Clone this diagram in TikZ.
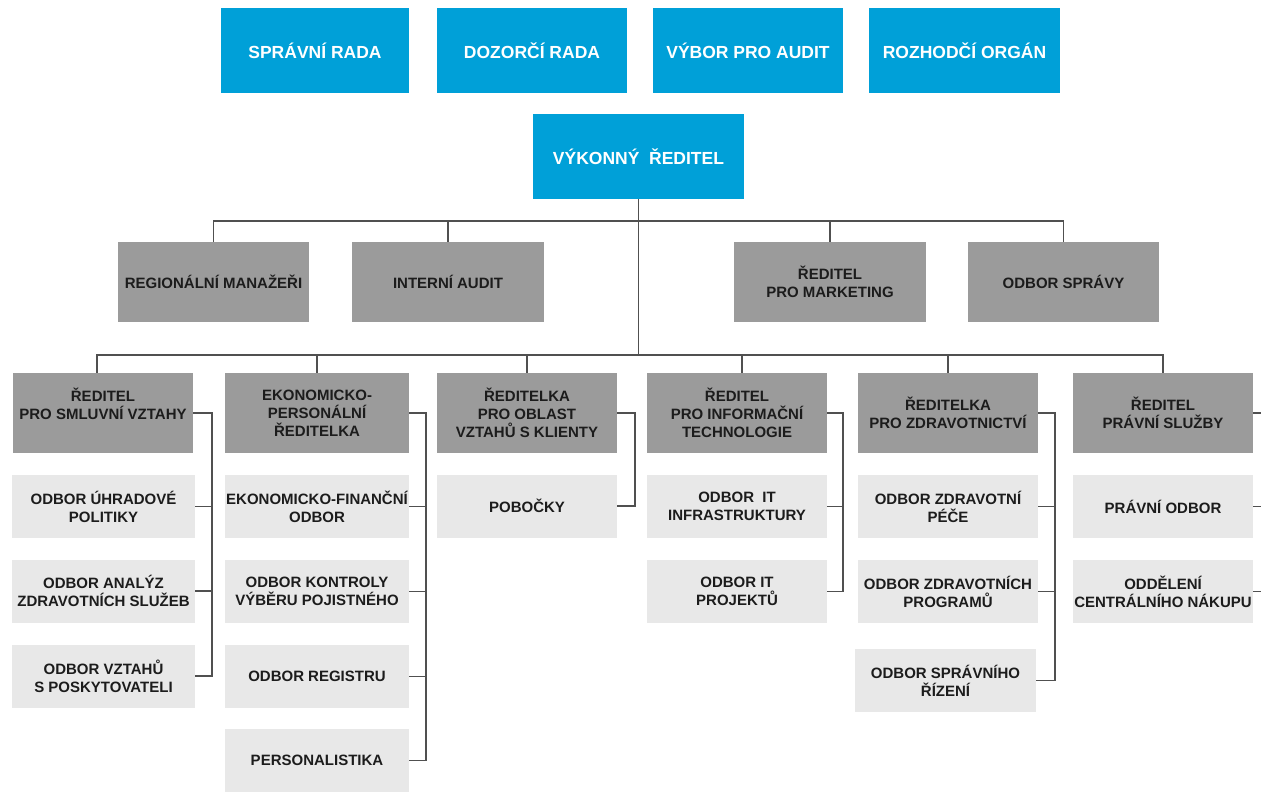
\documentclass[tikz,border=0pt]{standalone}
\usepackage{fontspec}
\setmainfont{Liberation Sans}
\definecolor{myblue}{RGB}{0,160,216}
\definecolor{dgray}{RGB}{155,155,155}
\definecolor{lgray}{RGB}{232,232,232}
\definecolor{txt}{RGB}{28,28,28}
\definecolor{linec}{RGB}{80,80,80}
\tikzset{
  box/.style={rectangle, inner sep=0pt, align=center},
  bluebox/.style={box, fill=myblue, text=white, minimum height=85pt,
    font=\bfseries\fontsize{17.5}{21}\selectfont},
  darkbox/.style={box, fill=dgray, text=txt, minimum height=80pt,
    font=\bfseries\fontsize{15}{18}\selectfont},
  lightbox/.style={box, fill=lgray, text=txt, minimum height=63pt,
    font=\bfseries\fontsize{15}{18}\selectfont},
  conn/.style={draw=linec, line width=1.1pt}
}
\begin{document}
\begin{tikzpicture}[x=1pt,y=-1pt]
\useasboundingbox (0,0) rectangle (1261,792);
% top row
\node[bluebox, minimum width=188pt] (sr) at (315,50.5) {SPRÁVNÍ RADA};
\node[bluebox, minimum width=190pt] (dr) at (532,50.5) {DOZORČÍ RADA};
\node[bluebox, minimum width=190pt] (vpa) at (748,50.5) {VÝBOR PRO AUDIT};
\node[bluebox, minimum width=191pt] (ro) at (964.5,50.5) {ROZHODČÍ ORGÁN};
\node[bluebox, minimum width=211pt] (ved) at (638.5,156.5) {VÝKONNÝ\ \ ŘEDITEL};
% second row
\node[darkbox, minimum width=191pt] (rm) at (213.5,282) {REGIONÁLNÍ MANAŽEŘI};
\node[darkbox, minimum width=192pt] (ia) at (448,282) {INTERNÍ AUDIT};
\node[darkbox, minimum width=192pt] (mk) at (830,282) {ŘEDITEL\\PRO MARKETING};
\node[darkbox, minimum width=191pt] (os) at (1063.5,282) {ODBOR SPRÁVY};
% headers
\node[darkbox, minimum width=180pt] (c1) at (103,413) {ŘEDITEL\\PRO SMLUVNÍ VZTAHY\\~};
\node[darkbox, minimum width=184pt] (c2) at (317,413) {EKONOMICKO-\\PERSONÁLNÍ\\ŘEDITELKA};
\node[darkbox, minimum width=180pt] (c3) at (527,413) {ŘEDITELKA\\PRO OBLAST\\VZTAHŮ S KLIENTY};
\node[darkbox, minimum width=180pt] (c4) at (737,413) {ŘEDITEL\\PRO INFORMAČNÍ\\TECHNOLOGIE};
\node[darkbox, minimum width=180pt] (c5) at (948,413) {ŘEDITELKA\\PRO ZDRAVOTNICTVÍ};
\node[darkbox, minimum width=180pt] (c6) at (1163,413) {ŘEDITEL\\PRÁVNÍ SLUŽBY};
% column 1
\node[lightbox, minimum width=183pt] (c1a) at (103.5,506.5) {ODBOR ÚHRADOVÉ\\POLITIKY};
\node[lightbox, minimum width=183pt] (c1b) at (103.5,591) {ODBOR ANALÝZ\\ZDRAVOTNÍCH SLUŽEB};
\node[lightbox, minimum width=183pt] (c1c) at (103.5,676) {ODBOR VZTAHŮ\\S POSKYTOVATELI};
% column 2
\node[lightbox, minimum width=184pt] (c2a) at (317,506.5) {EKONOMICKO-FINANČNÍ\\ODBOR};
\node[lightbox, minimum width=184pt] (c2b) at (317,591.5) {ODBOR KONTROLY\\VÝBĚRU POJISTNÉHO};
\node[lightbox, minimum width=184pt] (c2c) at (317,676.5) {ODBOR REGISTRU};
\node[lightbox, minimum width=184pt] (c2d) at (317,760.5) {PERSONALISTIKA};
% column 3
\node[lightbox, minimum width=180pt] (c3a) at (527,506) {POBOČKY};
% column 4
\node[lightbox, minimum width=180pt] (c4a) at (737,506.5) {ODBOR\ \ IT\\INFRASTRUKTURY};
\node[lightbox, minimum width=180pt] (c4b) at (737,591.5) {ODBOR IT\\PROJEKTŮ};
% column 5
\node[lightbox, minimum width=180pt] (c5a) at (948,506.5) {ODBOR ZDRAVOTNÍ\\PÉČE};
\node[lightbox, minimum width=180pt] (c5b) at (948,591.5) {ODBOR ZDRAVOTNÍCH\\PROGRAMŮ};
\node[lightbox, minimum width=181pt] (c5c) at (945.5,680.5) {ODBOR SPRÁVNÍHO\\ŘÍZENÍ};
% column 6
\node[lightbox, minimum width=180pt] (c6a) at (1163,506.5) {PRÁVNÍ ODBOR};
\node[lightbox, minimum width=180pt] (c6b) at (1163,591.5) {ODDĚLENÍ\\CENTRÁLNÍHO NÁKUPU};
% helper coordinates
\coordinate (b1) at (0,221);
\coordinate (b2) at (0,355);
\coordinate (v1) at (212,0);
\coordinate (v2) at (426,0);
\coordinate (v3) at (635,0);
\coordinate (v4) at (843,0);
\coordinate (v5) at (1055,0);
\coordinate (v6) at (1261,0);
% executive connectors
\draw[conn] (ved.south) -- (ved.south |- b2);
\draw[conn] (rm.north) |- (os.north |- b1) -- (os.north);
\draw[conn] (ia.north) -- (ia.north |- b1);
\draw[conn] (mk.north) -- (mk.north |- b1);
\draw[conn] ([xshift=-6pt]c1.north) |- (c6.north |- b2) -- (c6.north);
\draw[conn] (c2.north) -- (c2.north |- b2);
\draw[conn] (c3.north) -- (c3.north |- b2);
\draw[conn] ([xshift=5pt]c4.north) -- ([xshift=5pt]c4.north |- b2);
\draw[conn] (c5.north) -- (c5.north |- b2);
% column connectors
\draw[conn] (c1.east) -| (v1 |- c1c.east) -- (c1c.east);
\draw[conn] (c1a.east) -- (c1a.east -| v1);
\draw[conn] (c1b.east) -- (c1b.east -| v1);
\draw[conn] (c2.east) -| (v2 |- c2d.east) -- (c2d.east);
\draw[conn] (c2a.east) -- (c2a.east -| v2);
\draw[conn] (c2b.east) -- (c2b.east -| v2);
\draw[conn] (c2c.east) -- (c2c.east -| v2);
\draw[conn] (c3.east) -| (v3 |- c3a.east) -- (c3a.east);
\draw[conn] (c4.east) -| (v4 |- c4b.east) -- (c4b.east);
\draw[conn] (c4a.east) -- (c4a.east -| v4);
\draw[conn] (c5.east) -| (v5 |- c5c.east) -- (c5c.east);
\draw[conn] (c5a.east) -- (c5a.east -| v5);
\draw[conn] (c5b.east) -- (c5b.east -| v5);
\draw[conn] (c6.east) -- (c6.east -| v6);
\draw[conn] (c6a.east) -- (c6a.east -| v6);
\draw[conn] (c6b.east) -- (c6b.east -| v6);
\end{tikzpicture}
\end{document}
